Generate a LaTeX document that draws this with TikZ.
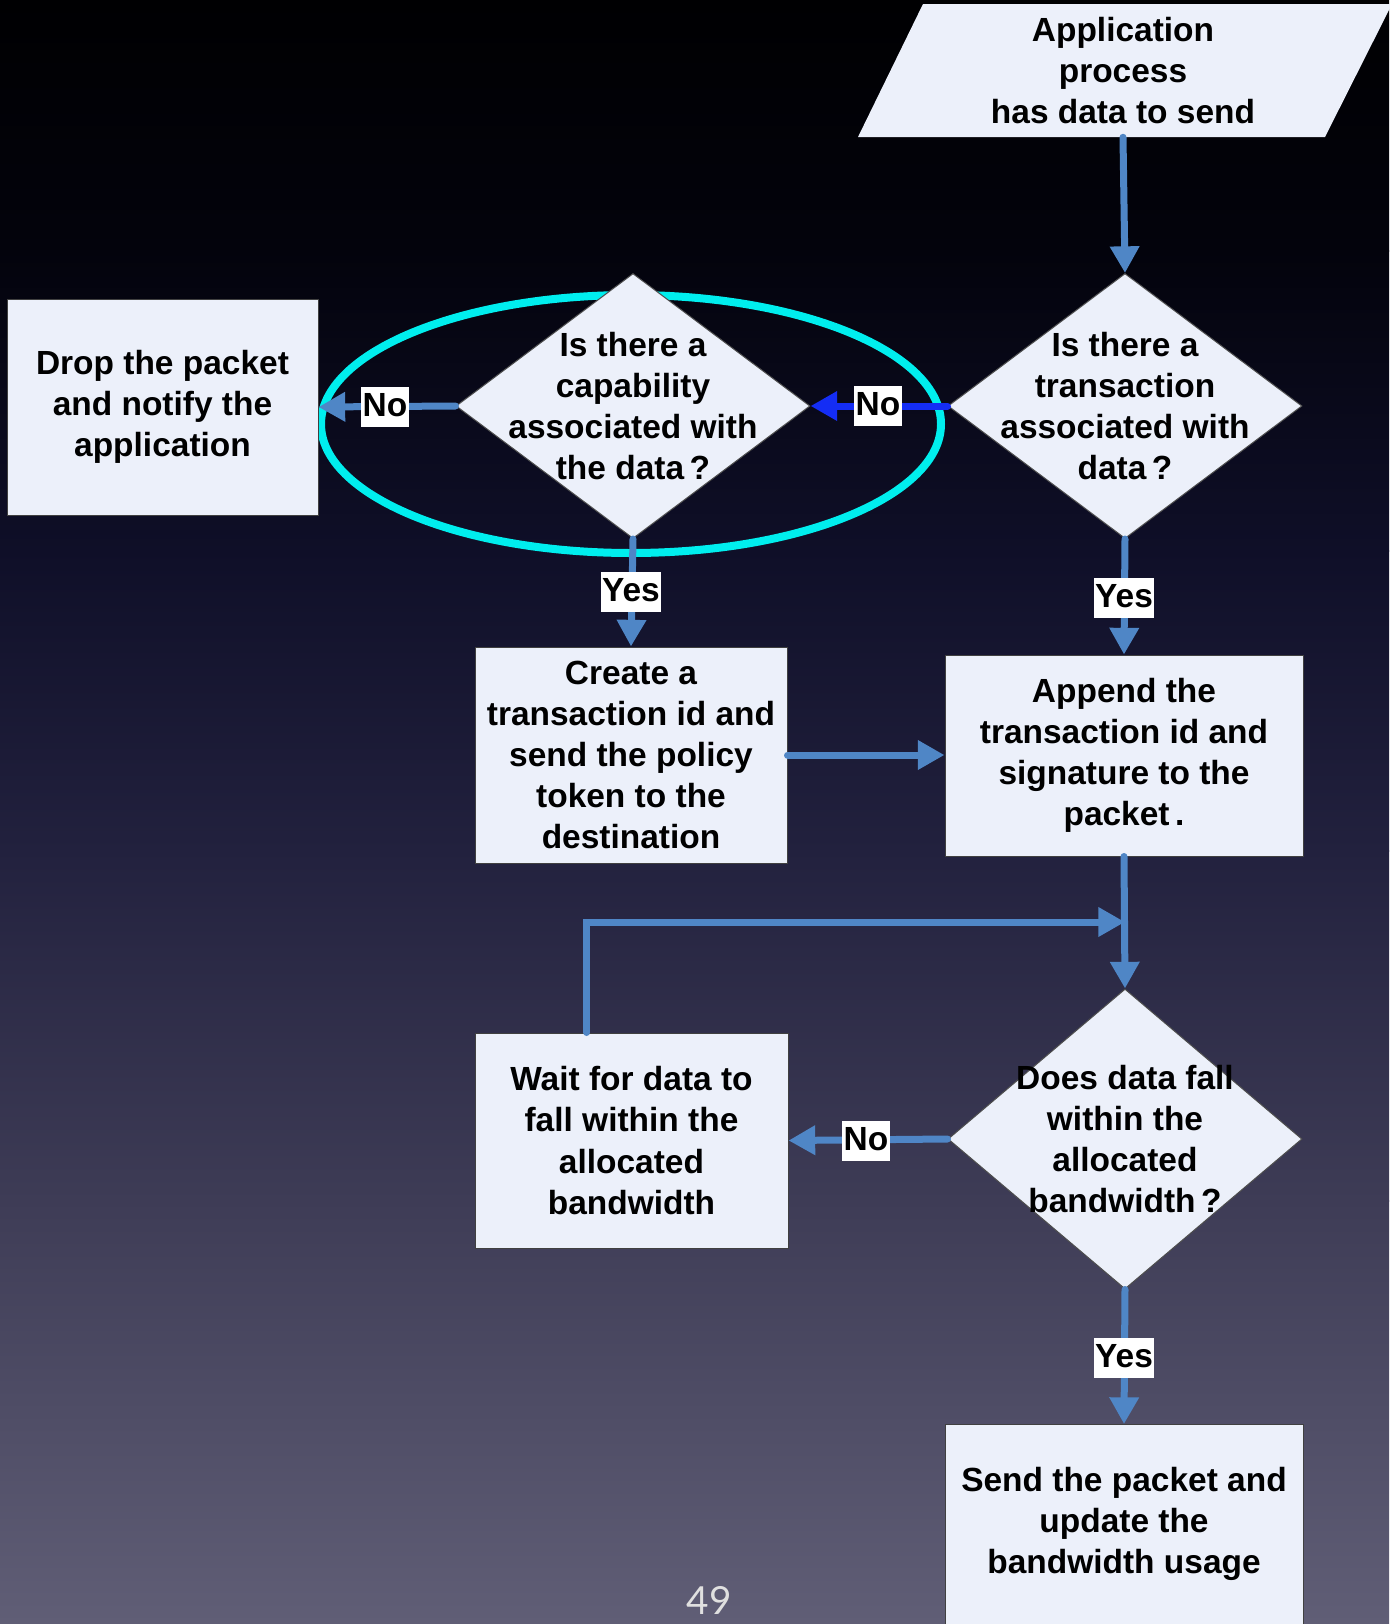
\documentclass[tikz,border=0pt]{standalone}
\usepackage{fontspec}
\setmainfont{Liberation Sans}
\newfontfamily\numfont{Lato}
\usetikzlibrary{shapes.geometric,arrows.meta}

\definecolor{boxfill}{RGB}{236,240,250}
\definecolor{flow}{RGB}{79,134,198}
\definecolor{alertblue}{RGB}{20,45,245}
\definecolor{ringcyan}{RGB}{0,238,238}
\definecolor{bgA}{RGB}{0,0,2}
\definecolor{bgB}{RGB}{3,3,12}
\definecolor{bgC}{RGB}{15,15,40}
\definecolor{bgD}{RGB}{34,33,62}
\definecolor{bgE}{RGB}{62,60,86}
\definecolor{bgF}{RGB}{96,94,118}

\newcommand\flowfont{\fontsize{25.1pt}{30.8pt}\selectfont\bfseries}

\pgfdeclarelayer{background}
\pgfsetlayers{background,main}

\begin{document}
\begin{tikzpicture}[x=0.75pt,y=-0.75pt,
  box/.style={draw=black!75, line width=0.75pt, fill=boxfill, rectangle,
    inner sep=0pt, align=center, font=\flowfont},
  decision/.style={draw=black!70, line width=0.75pt, fill=boxfill, diamond,
    inner sep=0pt, minimum width=265.5pt, minimum height=198.75pt},
  txt/.style={align=center, font=\flowfont, inner sep=0pt},
  tag/.style={fill=white, font=\flowfont, inner xsep=1pt, inner ysep=0pt,
    text height=19pt, text depth=5pt, minimum height=30pt},
  flowline/.style={draw=flow, line width=5.25pt, line cap=round,
    -{Triangle[length=20pt,width=21pt]}},
]
\useasboundingbox (0,0) rectangle (1389,1624);

% backdrop gradient and highlight ring
\begin{pgfonlayer}{background}
  \shade[top color=bgA, bottom color=bgB] (0,0) rectangle (1389,251);
  \shade[top color=bgB, bottom color=bgC] (0,250) rectangle (1389,551);
  \shade[top color=bgC, bottom color=bgD] (0,550) rectangle (1389,851);
  \shade[top color=bgD, bottom color=bgE] (0,850) rectangle (1389,1201);
  \shade[top color=bgE, bottom color=bgF] (0,1200) rectangle (1389,1624);
  \draw[ringcyan, line width=6pt] (631,424) ellipse [x radius=232.5pt, y radius=96.75pt];
  % start terminal (parallelogram)
  \fill[boxfill] (923,4) -- (1392,4) -- (1325,137) -- (858,137) -- cycle;
\end{pgfonlayer}

% start text
\node[txt, minimum height=99.75pt] (app) at (1123,70.5)
  {Application\\process\\has data to send};

% decisions
\node[decision] (trans) at (1125,406) {};
\node[txt] (trans-t) at (trans) {Is there a\\transaction\\associated with\\data\,?};
\node[decision] (cap) at (633,406) {};
\node[txt] (cap-t) at (cap) {Is there a\\capability\\associated with\\the data\,?};
\node[decision, minimum height=225pt] (bw) at (1125,1139) {};
\node[txt] (bw-t) at (bw) {Does data fall\\within the\\allocated\\bandwidth\,?};

% process boxes
\node[box, minimum width=233.25pt, minimum height=162pt] (drop) at (162.5,407)
  {Drop the packet\\and notify the\\application};
\node[box, minimum width=234pt, minimum height=162pt] (create) at (631,755)
  {Create a\\transaction id and\\send the policy\\token to the\\destination};
\node[box, minimum width=268.5pt, minimum height=150.75pt] (append) at (1124,755.5)
  {Append the\\transaction id and\\signature to the\\packet\,.};
\node[box, minimum width=234.75pt, minimum height=161.25pt] (wait) at (631.5,1140.5)
  {Wait for data to\\fall within the\\allocated\\bandwidth};
\node[box, minimum width=268.5pt, minimum height=165pt, anchor=north] (send) at (1124,1424) {};
\node[txt] (send-t) at (1124,1524) {Send the packet and\\update the\\bandwidth usage};

% connectors
\coordinate (merge) at (1125,922);
\draw[flowline] (app.south) -- (trans.north);
\draw[flowline, draw=alertblue] (trans.west) -- (cap.east);
\draw[flowline] (cap.west) -- (drop.east);
\draw[flowline] (cap.south) -- (create.north);
\draw[flowline] (trans.south) -- (append.north);
\draw[flowline] (create.east) -- (create.east -| append.west);
\draw[flowline] (append.south) -- (bw.north);
\draw[flowline] ([xshift=-33.4pt]wait.north) |- (merge);
\draw[flowline] (bw.west) -- (wait.east);
\draw[flowline] (bw.south) -- (send.north);

% branch labels
\node[tag] (no-trans) at (878,406) {No};
\node[tag] (no-cap) at (385,407) {No};
\node[tag] (yes-cap) at (631,592) {Yes};
\node[tag] (yes-trans) at (1124,598) {Yes};
\node[tag] (no-bw) at (866,1141) {No};
\node[tag] (yes-bw) at (1124,1358) {Yes};

% slide number
\node[font=\numfont\fontsize{29pt}{29pt}\selectfont, text=white!88!black,
  anchor=base, inner sep=0pt] (pagenum) at (709,1614) {49};
\end{tikzpicture}
\end{document}
